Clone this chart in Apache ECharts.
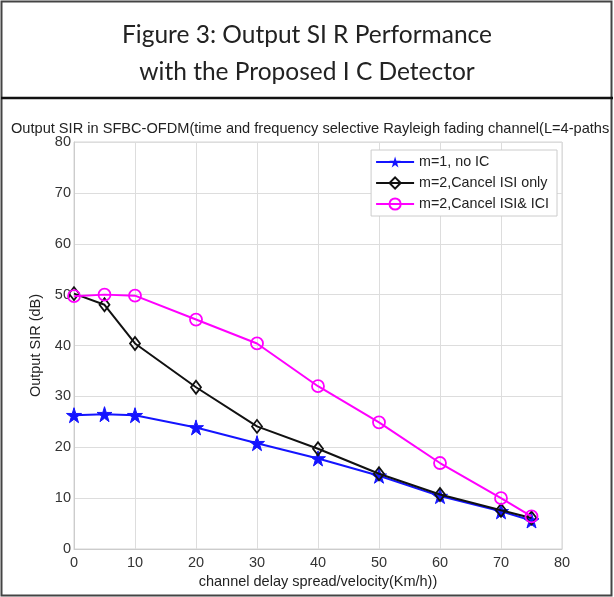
<!DOCTYPE html>
<html>
<head>
<meta charset="utf-8">
<script src="https://cdn.jsdelivr.net/npm/echarts@6/dist/echarts.min.js"></script>
<style>
html,body{margin:0;padding:0;background:#fff;}
#c{width:614px;height:597px;}
</style>
</head>
<body>
<div id="c"></div>
<script>
const xValues = [0, 5, 10, 20, 30, 40, 50, 60, 70, 75];
const noIC = [26.3, 26.5, 26.3, 23.9, 20.8, 17.8, 14.4, 10.4, 7.4, 5.6];
const cancelISI = [50.2, 48.0, 40.4, 31.8, 24.1, 19.7, 14.8, 10.7, 7.6, 6.1];
const cancelISIICI = [49.7, 50.0, 49.8, 45.1, 40.4, 32.0, 24.9, 16.9, 10.0, 6.4];
const seriesNames = ['m=1, no IC', 'm=2,Cancel ISI only', 'm=2,Cancel ISI& ICI'];
const figureTitle = 'Figure 3: Output SI R Performance\nwith the Proposed I C Detector';
const chartTitle = 'Output SIR in SFBC-OFDM(time and frequency selective Rayleigh fading channel(L=4-paths';
const xName = 'channel delay spread/velocity(Km/h))';
const yName = 'Output SIR (dB)';

const pairs = arr => xValues.map((x, i) => [x, arr[i]]);
const chart = echarts.init(document.getElementById('c'), null, {renderer: 'canvas'});
const F = 'Liberation Sans, Arial, sans-serif';
chart.setOption({
  animation: false,
  backgroundColor: '#fff',
  title: [
    {text: figureTitle, left: 'center', top: 12,
     textStyle: {fontFamily: 'Lato, sans-serif', fontWeight: 'normal', fontSize: 24.5, color: '#222', lineHeight: 37}},
    {text: chartTitle, left: 6, top: 116,
     textStyle: {fontFamily: F, fontWeight: 'normal', fontSize: 14.6, color: '#222'}}
  ],
  graphic: [
    {type: 'rect', shape: {x: 1.5, y: 1.5, width: 610, height: 594}, style: {fill: 'none', stroke: '#444', lineWidth: 2}, silent: true, z: 100},
    {type: 'line', shape: {x1: 1, y1: 98, x2: 613, y2: 98}, style: {stroke: '#111', lineWidth: 2.5}, silent: true, z: 100}
  ],
  grid: {left: 74, right: 52, top: 142, bottom: 48, containLabel: false, show: true, borderColor: '#d4d4d4', borderWidth: 1},
  legend: {
    orient: 'vertical', right: 57, top: 150,
    backgroundColor: '#fff', borderColor: '#ccc', borderWidth: 1,
    padding: [5, 8, 5, 4], itemGap: 7, itemWidth: 38, itemHeight: 14,
    textStyle: {fontFamily: F, fontSize: 14.3, color: '#222'},
    data: seriesNames
  },
  xAxis: {
    type: 'value', min: 0, max: 80, interval: 10,
    name: xName, nameLocation: 'middle', nameGap: 25,
    nameTextStyle: {fontFamily: F, fontSize: 14.5, color: '#222'},
    axisLine: {show: true, lineStyle: {color: '#ccc'}},
    axisTick: {show: false},
    axisLabel: {fontFamily: F, fontSize: 14.5, color: '#333', margin: 6},
    splitLine: {show: true, lineStyle: {color: '#ddd'}}
  },
  yAxis: {
    type: 'value', min: 0, max: 80, interval: 10,
    name: yName, nameLocation: 'middle', nameGap: 29,
    nameTextStyle: {fontFamily: F, fontSize: 14.5, color: '#222'},
    axisLine: {show: true, lineStyle: {color: '#ccc'}},
    axisTick: {show: false},
    axisLabel: {fontFamily: F, fontSize: 14.5, color: '#333', margin: 3},
    splitLine: {show: true, lineStyle: {color: '#ddd'}}
  },
  series: [
    {name: seriesNames[0], type: 'line', data: pairs(noIC), symbol: 'path://M50,0 L61,35 L98,35 L68,57 L79,91 L50,70 L21,91 L32,57 L2,35 L39,35 Z',
     symbolSize: 15, lineStyle: {color: '#1414ff', width: 2}, itemStyle: {color: '#1414ff', borderColor: '#1414ff'}, z: 2},
    {name: seriesNames[1], type: 'line', data: pairs(cancelISI), symbol: 'diamond', symbolSize: [10, 13],
     lineStyle: {color: '#111', width: 2}, itemStyle: {color: 'rgba(255,255,255,0)', borderColor: '#111', borderWidth: 1.8}, z: 3},
    {name: seriesNames[2], type: 'line', data: pairs(cancelISIICI), symbol: 'circle', symbolSize: 12,
     lineStyle: {color: '#ff00ff', width: 2}, itemStyle: {color: 'rgba(255,255,255,0)', borderColor: '#ff00ff', borderWidth: 1.8}, z: 4}
  ]
});
</script>
</body>
</html>
